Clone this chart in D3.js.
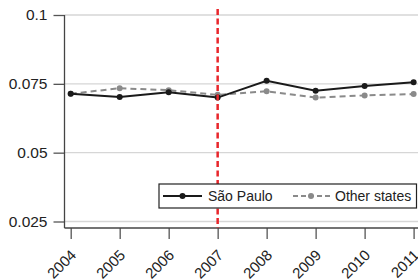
<!DOCTYPE html>
<html>
<head>
<meta charset="utf-8">
<script src="https://cdn.jsdelivr.net/npm/d3@7"></script>
<style>
  body { margin: 0; background: #fff; }
  text { font-family: "Liberation Sans", Arial, sans-serif; }
</style>
</head>
<body>
<script>
// data
var years = [2004, 2005, 2006, 2007, 2008, 2009, 2010, 2011];
var saoPaulo = [0.0714, 0.0702, 0.0719, 0.0700, 0.0761, 0.0725, 0.0742, 0.0756];
var otherStates = [0.0714, 0.0734, 0.0727, 0.0710, 0.0723, 0.0700, 0.0708, 0.0713];
var yTicks = [0.025, 0.05, 0.075, 0.1];
var yTickLabels = ["0.025", "0.05", "0.075", "0.1"];
var breakYear = 2007;

var width = 418,
    height = 280;

var svg = d3.select("body").append("svg")
  .attr("width", width)
  .attr("height", height);

var x = d3.scaleLinear().domain([2004, 2011]).range([70.7, 413.6]);
var y = d3.scaleLinear().domain([0.025, 0.1]).range([221.5, 15]);

var axisX = 64.5, axisY = 228;

// gridlines
svg.append("g").selectAll("line").data(yTicks).enter().append("line")
  .attr("x1", axisX).attr("x2", width)
  .attr("y1", function(d){ return y(d); }).attr("y2", function(d){ return y(d); })
  .attr("stroke", "#d6d6d6").attr("stroke-width", 1.3);

// y axis
var yAxis = d3.axisLeft(y).tickValues(yTicks)
  .tickFormat(function(d, i){ return yTickLabels[i]; })
  .tickSize(11).tickPadding(6);
var gy = svg.append("g").attr("transform", "translate(" + axisX + ",0)").call(yAxis);
gy.select(".domain").remove();
gy.selectAll(".tick line").attr("stroke", "#555").attr("stroke-width", 1.3);
gy.selectAll(".tick text").attr("font-size", 15.5).attr("fill", "#222")
  .attr("font-family", "Liberation Sans, Arial, sans-serif");
svg.append("line").attr("x1", axisX).attr("x2", axisX).attr("y1", 15).attr("y2", axisY)
  .attr("stroke", "#444").attr("stroke-width", 1.3);

// x axis
var xAxis = d3.axisBottom(x).tickValues(years).tickFormat(d3.format("d"))
  .tickSize(11);
var gx = svg.append("g").attr("transform", "translate(0," + axisY + ")").call(xAxis);
gx.select(".domain").remove();
gx.selectAll(".tick line").attr("stroke", "#555").attr("stroke-width", 1.3);
gx.selectAll(".tick text").attr("font-size", 15).attr("fill", "#222")
  .attr("font-family", "Liberation Sans, Arial, sans-serif")
  .attr("text-anchor", "end")
  .attr("x", 0).attr("y", 0).attr("dy", 0)
  .attr("transform", "translate(6,28) rotate(-45)");
svg.append("line").attr("x1", axisX).attr("x2", width).attr("y1", axisY).attr("y2", axisY)
  .attr("stroke", "#444").attr("stroke-width", 1.3);

// lines
var line = d3.line().x(function(d, i){ return x(years[i]); }).y(function(d){ return y(d); });

svg.append("path").datum(otherStates).attr("d", line)
  .attr("fill", "none").attr("stroke", "#8a8a8a").attr("stroke-width", 2)
  .attr("stroke-dasharray", "6,4");
svg.append("g").selectAll("circle").data(otherStates).enter().append("circle")
  .attr("cx", function(d, i){ return x(years[i]); }).attr("cy", function(d){ return y(d); })
  .attr("r", 3).attr("fill", "#8a8a8a");

svg.append("path").datum(saoPaulo).attr("d", line)
  .attr("fill", "none").attr("stroke", "#1a1a1a").attr("stroke-width", 2);
svg.append("g").selectAll("circle").data(saoPaulo).enter().append("circle")
  .attr("cx", function(d, i){ return x(years[i]); }).attr("cy", function(d){ return y(d); })
  .attr("r", 3).attr("fill", "#1a1a1a");

// red break line
svg.append("line").attr("x1", x(breakYear)).attr("x2", x(breakYear))
  .attr("y1", 9).attr("y2", axisY)
  .attr("stroke", "#e8262b").attr("stroke-width", 2.5).attr("stroke-dasharray", "6,3.5");

// legend
var lg = svg.append("g");
lg.append("rect").attr("x", 159).attr("y", 184).attr("width", 257.5).attr("height", 24)
  .attr("fill", "#fff").attr("stroke", "#222").attr("stroke-width", 1.2);
lg.append("line").attr("x1", 163).attr("x2", 202).attr("y1", 196).attr("y2", 196)
  .attr("stroke", "#1a1a1a").attr("stroke-width", 2);
lg.append("circle").attr("cx", 182.5).attr("cy", 196).attr("r", 3).attr("fill", "#1a1a1a");
lg.append("text").attr("x", 208).attr("y", 196).attr("dy", "0.35em")
  .attr("font-size", 14).attr("fill", "#222").text("São Paulo");
lg.append("line").attr("x1", 293).attr("x2", 331).attr("y1", 196).attr("y2", 196)
  .attr("stroke", "#8a8a8a").attr("stroke-width", 2).attr("stroke-dasharray", "5,3");
lg.append("circle").attr("cx", 311).attr("cy", 196).attr("r", 3).attr("fill", "#8a8a8a");
lg.append("text").attr("x", 335).attr("y", 196).attr("dy", "0.35em")
  .attr("font-size", 14).attr("fill", "#222").text("Other states");
</script>
</body>
</html>
